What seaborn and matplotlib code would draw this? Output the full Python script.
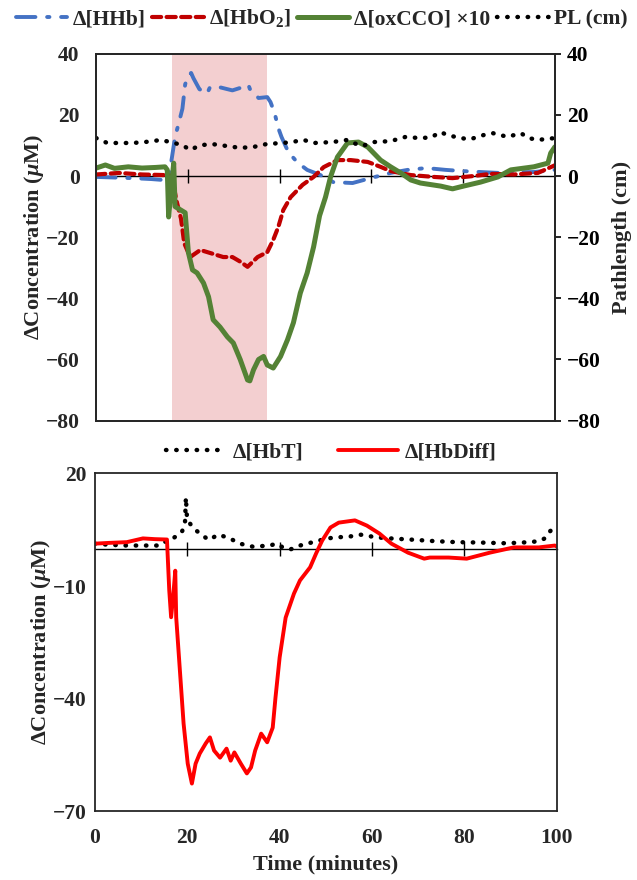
import numpy as np
import pandas as pd
import seaborn as sns
import matplotlib.pyplot as plt

# --- donnees (minutes / uM) ---
hhb_t = [0, 4, 8, 12, 14.6, 15.8, 16.5, 17.2, 17.9, 18.8, 19.4, 20.2, 20.7, 21.2, 22.5, 24.2, 24.8, 27,
         28.6, 29.7, 31.4, 33.2, 33.5, 35.4, 37.3, 38, 38.9, 39.7, 40.4, 41.9, 43.9, 46, 48.9, 51.7, 55.9,
         59.8, 64.2, 67.9, 72, 76.2, 80, 83.8, 87.8, 91.5, 95.4, 100]
hhb_v = [-0.3, -0.5, -0.7, -1, -1.3, -0.5, 5.9, 12.8, 16.7, 22, 30, 33, 33.7, 32, 28.4, 27, 29, 29,
         28.4, 28, 28.8, 29.8, 28.5, 25.5, 25.8, 24.2, 20.6, 15.7, 12.8, 7.8, 4.4, 2, 0.3, -2, -2.3,
         -0.7, 1, 2, 2.6, 2, 1.6, 1.3, 1, 1.2, 1.3, 2]

hbo2_t = [0, 5, 10, 15, 16.5, 17.5, 18.5, 19.2, 20.5, 22.7, 24.9, 27.7, 29.7, 31.4, 33, 35.2, 37.3, 38.6,
          39.7, 40.8, 42.4, 45, 47.4, 49.6, 52.6, 55.5, 59.2, 62, 64.2, 68.6, 73.6, 77.7, 82.3, 86, 91,
          96.3, 100]
hbo2_v = [0.5, 1, 0.5, 0.3, 0, -8, -14, -22, -26.5, -24.2, -25.2, -26.5, -26.5, -28, -29.7, -26.5, -24.9,
          -20.9, -16.7, -11.1, -6.9, -2.9, -0.3, 2.9, 5.2, 5.2, 4.6, 3, 1.6, 0.3, -0.3, -0.7, 0, 0.7, 0.5,
          1, 3.5]

cco_t = [0, 2, 4, 7, 10, 13, 15, 15.5, 15.8, 16.3, 16.9, 17.2, 18.3, 19.4, 20.1, 21, 22, 23.4, 24.5, 25.5,
         27, 28.6, 29.9, 31.4, 33, 33.5, 34.3, 35.4, 36.5, 37.3, 38.6, 40.2, 41.7, 43, 44.5, 46, 47.4,
         48.7, 50, 51.1, 52.6, 54.8, 57.2, 59.2, 62, 64.2, 66.4, 68.6, 70.7, 75.1, 77.7, 80.1, 83.8,
         87.6, 90.4, 95.4, 98.5, 99.1, 100]
cco_v = [2.6, 3.6, 2.5, 3, 2.6, 2.8, 3, 2, -13.4, -5, 4.2, -10, -11, -12, -25, -30.7, -31.7, -35, -39.5,
         -47, -49.4, -52.6, -54.6, -60, -66.7, -67, -63.4, -60, -59, -61.8, -62.8, -59, -53.6, -48,
         -38.3, -31.7, -23.2, -13, -6.9, -0.3, 6.2, 10.8, 11.1, 9.5, 5.2, 3, 1, -1.3, -2.3, -3.3, -4.2,
         -3.3, -2, -0.3, 2, 3, 4.2, 7.5, 9.5]

pl_t = [0, 2.4, 8, 12, 14, 16.2, 18.8, 20.5, 22.7, 25.5, 28.5, 31.4, 34.3, 37.3, 40.8, 43, 45.2, 47.5,
        51.5, 54.8, 56.1, 58, 60.5, 64.2, 67.5, 70.4, 73, 75.1, 76.5, 79.5, 81.5, 84.5, 86.5, 89.7,
        92.6, 94.3, 96.3, 100]
pl_v = [12.4, 10.8, 10.8, 11.3, 11.8, 11.1, 10.1, 8.5, 10.1, 10.4, 9.8, 9.2, 9.5, 10.5, 10.8, 11.2, 11.8,
        10.8, 11.1, 11.8, 10.8, 9.8, 11.1, 11.4, 12.8, 12.4, 12.6, 14.4, 13.4, 12.4, 12, 13.4, 14, 12.8,
        14, 12.4, 11.8, 12.4]

hbt_t = [0, 3, 6.9, 10, 14, 15.5, 16.9, 18.8, 19.5, 19.7, 19.9, 20.1, 21.2, 22.7, 24.2, 24.9, 26.3, 26.8,
         29.2, 31.4, 34.2, 37.9, 39.3, 40.7, 42.2, 44.4, 47.2, 49.4, 51.5, 55.2, 57.4, 58.8, 60.6, 63.9,
         68.2, 73.2, 78.3, 83.3, 89.1, 94.2, 96.3, 97.4, 98.1, 99.1, 100]
hbt_v = [1.3, 1, 0.8, 0.8, 0.8, 2, 2.7, 4.3, 6.7, 13.6, 9, 7.5, 5.6, 4, 2.7, 2.3, 3.5, 3.7,
         2.7, 1.3, 0.5, 0.8, 1.3, 0.3, -0.3, 0.8, 1.7, 2.4, 2.9, 3.2, 3.7, 3.5, 3, 2.7,
         2.4, 2, 1.7, 1.6, 1.4, 1.7, 2, 2.7, 4, 5.3, 6.1]

diff_t = [0, 3, 6.9, 10.4, 13, 15.6, 16.1, 16.5, 17, 17.4, 17.6, 18.3, 19.2, 20.1, 21, 21.8, 22.7, 24,
          24.9, 25.8, 27.1, 28.5, 29.4, 30.2, 31.6, 32.9, 33.8, 34.7, 36, 37.3, 38.5, 39.1, 40, 41.3,
          43.1, 44.4, 46.6, 47.9, 49.2, 51, 52.8, 56.3, 58.9, 61.6, 64.2, 67.8, 71.3, 72.5, 76.6, 80.5,
          85.5, 90.7, 96.1, 99.6, 100]
diff_v = [1.3, 1.5, 1.7, 2.7, 2.5, 2.4, -11.2, -18.3, -12, -5.9, -18.3, -30.7, -46.6, -57.3, -62.6, -57.3,
          -54.6, -51.9, -50.3, -53.8, -55.7, -53.3, -56.5, -54.3, -57.3, -59.9, -58.3, -53.8, -49.3,
          -51.6, -47.7, -39.7, -29, -18.4, -12, -8.5, -5, -1.3, 2.1, 5.6, 6.9, 7.5, 6.1, 4, 1.3, -1.1,
          -2.7, -2.4, -2.4, -2.7, -1.1, 0.3, 0.3, 0.8, 0.5]

shade_start, shade_end = 16.5, 37.3
x_ticks = [0, 20, 40, 60, 80, 100]

sns.set_theme(style="white")
plt.rcParams['font.family'] = ['Liberation Serif', 'DejaVu Serif']
plt.rcParams['font.weight'] = 'bold'
plt.rcParams['mathtext.fontset'] = 'custom'
plt.rcParams['mathtext.rm'] = 'Liberation Serif:bold'
plt.rcParams['mathtext.it'] = 'Liberation Serif:italic:bold'
plt.rcParams['mathtext.bf'] = 'Liberation Serif:bold'

FS = 15.5
LAB = 16
SPINE = '#262626'

fig = plt.figure(figsize=(6.37, 8.8), dpi=100)
ax = fig.add_axes([0.151, 0.522, 0.72, 0.417])
ax2 = ax.twinx()
bx = fig.add_axes([0.149, 0.078, 0.725, 0.384])

dotted = (0, (0.1, 2.2))

# 1. Graphique du haut
ax.axvspan(shade_start, shade_end, color='#F3CFD0', zorder=0, lw=0)
sns.lineplot(x=hhb_t, y=hhb_v, ax=ax, color='#4472C4', linewidth=2.8, linestyle=(0, (5, 3, 0.6, 3)),
             label='Δ[HHb]', legend=False, estimator=None, sort=False)
sns.lineplot(x=hbo2_t, y=hbo2_v, ax=ax, color='#C00000', linewidth=3, linestyle=(0, (2.2, 1.3)),
             label='Δ[HbO$_2$]', legend=False, estimator=None, sort=False)
sns.lineplot(x=cco_t, y=cco_v, ax=ax, color='#548235', linewidth=3.6,
             label='Δ[oxCCO] ×10', legend=False, estimator=None, sort=False)
sns.lineplot(x=pl_t, y=pl_v, ax=ax2, color='black', linewidth=3.2, linestyle=dotted,
             label='PL (cm)', legend=False, estimator=None, sort=False)
for ln in ax.get_lines() + ax2.get_lines():
    ln.set_dash_capstyle('round')

for a in (ax, ax2):
    a.set_xlim(0, 100)
    a.set_ylim(-80, 40)
    a.set_yticks([40, 20, 0, -20, -40, -60, -80])
    a.grid(False)
ax.tick_params(axis='x', length=0, labelbottom=False)
ax.tick_params(axis='y', left=False, labelsize=FS, pad=6)
ax2.tick_params(axis='y', right=True, direction='out', length=4.5, width=1.2, colors='black',
                labelsize=FS, pad=4)
ax.set_ylabel('ΔConcentration ($\\mu$M)', fontsize=LAB, fontweight='bold', labelpad=0)
ax2.set_ylabel('Pathlength (cm)', fontsize=LAB, fontweight='bold', labelpad=8)
for a in (ax, ax2):
    for s in a.spines.values():
        s.set_color(SPINE)
        s.set_linewidth(1.3)

sec = ax.secondary_xaxis(0, transform=ax.transData)
sec.set_xticks([20, 40, 60, 80])
sec.tick_params(axis='x', direction='inout', length=10, width=1, color='black', labelbottom=False)
sec.spines['bottom'].set_linewidth(1)
sec.spines['bottom'].set_color('black')

h1, l1 = ax.get_legend_handles_labels()
h2, l2 = ax2.get_legend_handles_labels()
fig.legend(h1 + h2, l1 + l2, loc='center', bbox_to_anchor=(0.505, 0.979), ncol=4, frameon=False,
           fontsize=FS, handlelength=2.4, handletextpad=0.25, columnspacing=0.3, borderaxespad=0)

# 2. Graphique du bas
sns.lineplot(x=hbt_t, y=hbt_v, ax=bx, color='black', linewidth=3.2, linestyle=dotted,
             label='Δ[HbT]', legend=False, estimator=None, sort=False)
sns.lineplot(x=diff_t, y=diff_v, ax=bx, color='#FF0000', linewidth=2.8,
             label='Δ[HbDiff]', legend=False, estimator=None, sort=False)
for ln in bx.get_lines():
    ln.set_dash_capstyle('round')
bx.set_xlim(0, 100)
bx.set_ylim(-70, 20)
bx.set_yticks([20, -10, -40, -70])
bx.set_xticks(x_ticks)
bx.grid(False)
bx.tick_params(axis='x', length=0, labelsize=FS, pad=12)
bx.tick_params(axis='y', length=0, labelsize=FS, pad=6)
bx.set_xlabel('Time (minutes)', fontsize=LAB, fontweight='bold', labelpad=5)
bx.set_ylabel('ΔConcentration ($\\mu$M)', fontsize=LAB, fontweight='bold', labelpad=0)
for s in bx.spines.values():
    s.set_color(SPINE)
    s.set_linewidth(1.3)

secb = bx.secondary_xaxis(0, transform=bx.transData)
secb.set_xticks([20, 40, 60, 80])
secb.tick_params(axis='x', direction='inout', length=10, width=1, color='black', labelbottom=False)
secb.spines['bottom'].set_linewidth(1)
secb.spines['bottom'].set_color('black')

hb, lb = bx.get_legend_handles_labels()
fig.legend(hb, lb, loc='center', bbox_to_anchor=(0.52, 0.486), ncol=2, frameon=False,
           fontsize=FS, handlelength=2.8, handletextpad=0.3, columnspacing=1.6, borderaxespad=0)

plt.savefig("out.png", dpi=100)
plt.close()
